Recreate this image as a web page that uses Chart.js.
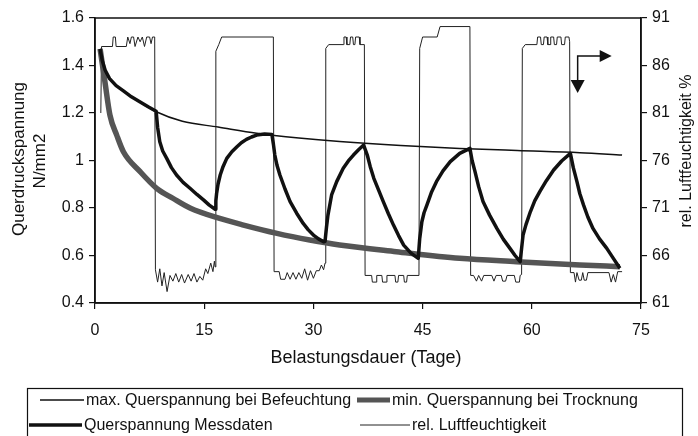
<!DOCTYPE html>
<html>
<head>
<meta charset="utf-8">
<script src="https://cdn.jsdelivr.net/npm/chart.js@4.4.1/dist/chart.umd.min.js"></script>
<style>
  html, body { margin: 0; padding: 0; background: #fff; }
</style>
</head>
<body>
<canvas id="stress" width="698" height="436"></canvas>
<script>
// tick labels
var xTicks = ["0", "15", "30", "45", "60", "75"];
var yTicks = ["0.4", "0.6", "0.8", "1", "1.2", "1.4", "1.6"];
var rhTicks = ["61", "66", "71", "76", "81", "86", "91"];

// Querspannung Messdaten (N/mm2)
var measDays = [0.7, 1.0, 1.4, 2.0, 2.9, 3.9, 5.0, 6.2, 7.3, 8.4,
  8.6, 8.9, 9.3, 9.85, 10.5, 11.2, 12.1, 13.05, 14.0, 14.9, 15.7, 16.5,
  16.6, 16.7, 16.9, 17.2, 17.6, 18.1, 18.8, 19.5, 20.1, 20.8, 21.5, 22.2, 23.3, 24.3,
  24.5, 24.7, 25.0, 25.4, 26.1, 26.8, 27.7, 28.6, 29.3, 30.0, 30.7, 31.4, 31.6,
  31.8, 32.0, 32.5, 33.2, 34.1, 34.8, 35.5, 36.2, 36.9,
  37.4, 37.8, 38.3, 39.0, 39.6, 40.3, 41.0, 41.7, 42.4, 43.4, 44.4,
  44.6, 44.9, 45.2, 45.6, 46.2, 46.9, 47.8, 48.8, 50.1, 51.5,
  51.8, 52.2, 52.7, 53.3, 54.2, 55.2, 56.1, 57.0, 57.7, 58.4,
  58.6, 58.8, 59.2, 59.8, 60.4, 61.1, 62.0, 63.0, 64.1, 65.3,
  65.7, 66.2, 66.6, 67.1, 67.7, 68.4, 69.3, 70.3, 71.2, 72.1];
var measVals = [1.47, 1.42, 1.38, 1.345, 1.315, 1.293, 1.268, 1.246, 1.226, 1.207,
  1.14, 1.079, 1.04, 1.009, 0.97, 0.939, 0.908, 0.883, 0.857, 0.834, 0.812, 0.795,
  0.83, 0.86, 0.9, 0.939, 0.975, 1.009, 1.037, 1.058, 1.075, 1.089, 1.099, 1.107, 1.112, 1.11,
  1.07, 1.023, 0.98, 0.939, 0.88, 0.827, 0.778, 0.735, 0.708, 0.686, 0.67, 0.658, 0.66,
  0.72, 0.77, 0.855, 0.911, 0.967, 0.998, 1.023, 1.045, 1.065,
  1.023, 0.975, 0.925, 0.872, 0.827, 0.776, 0.728, 0.684, 0.644, 0.61, 0.588,
  0.67, 0.742, 0.78, 0.813, 0.865, 0.911, 0.956, 0.995, 1.03, 1.051,
  1.0, 0.953, 0.89, 0.827, 0.77, 0.714, 0.668, 0.63, 0.6, 0.574,
  0.63, 0.686, 0.73, 0.784, 0.83, 0.869, 0.915, 0.96, 0.998, 1.03,
  0.97, 0.911, 0.86, 0.813, 0.762, 0.714, 0.67, 0.63, 0.588, 0.546];

// max. Querspannung bei Befeuchtung
var maxDays = [0.7, 1.4, 2.0, 3.9, 6.2, 8.5, 12, 16.9, 22.2, 28, 33.6, 42, 50.1, 58, 66.6, 72.4];
var maxVals = [1.47, 1.38, 1.345, 1.293, 1.246, 1.204, 1.165, 1.141, 1.115, 1.095, 1.08, 1.063, 1.051, 1.042, 1.033, 1.023];

// min. Querspannung bei Trocknung
var minDays = [0.7, 1.37, 2.06, 2.98, 3.9, 6.2, 8.47, 10.75, 13.05, 16.9, 20.4, 25, 29.5, 33.6, 41.4, 50.1, 57.9, 66.6, 72.1];
var minVals = [1.47, 1.33, 1.19, 1.107, 1.037, 0.953, 0.883, 0.84, 0.80, 0.758, 0.728, 0.693, 0.665, 0.644, 0.616, 0.588, 0.574, 0.56, 0.553];

// rel. Luftfeuchtigkeit (%)
var humDays = [0.8, 0.9,
  2.4, 2.5, 2.8, 2.9, 4.3, 4.5, 4.8, 5.0, 5.3, 5.5, 5.9, 6.2, 6.5, 6.8, 7.1, 7.5, 7.7, 7.9, 8.2,
  8.3, 8.6, 8.9, 9.2, 9.5, 9.9, 10.3, 10.7, 11.1, 11.5, 11.9, 12.3, 12.8, 13.2, 13.6, 14.0, 14.4, 14.8, 15.2, 15.5, 15.9, 16.2, 16.4, 16.5,
  16.6, 17.0, 17.4, 24.5,
  24.6, 25.3, 25.5, 26.1, 26.4, 26.8, 27.2, 27.6, 28.0, 28.4, 28.8, 29.2, 29.6, 30.0, 30.4, 30.8, 31.1, 31.4, 31.6,
  31.7, 32.1, 34.1, 34.2, 34.5, 34.6, 35.0, 35.1, 35.4, 35.5, 35.7, 35.8, 36.3, 36.4, 37.0,
  37.1, 38.0, 38.1, 38.6, 38.7, 39.4, 39.5, 40.0, 40.1, 41.2, 41.3, 41.6, 41.7, 42.4, 42.5, 42.8, 42.9, 44.5,
  44.6, 45.0, 47.0, 47.4, 51.5,
  51.6, 52.0, 52.4, 52.7, 53.1, 53.4, 54.5, 54.8, 55.1, 55.8, 56.0, 56.4, 56.6, 57.6, 57.8, 58.3, 58.4, 58.6,
  58.7, 59.1, 60.7, 60.8, 61.2, 61.3, 61.6, 61.7, 62.1, 62.2, 62.5, 62.6, 63.0, 63.1, 63.4, 63.5, 64.0, 64.1, 64.5, 64.6, 65.1, 65.2,
  65.3, 65.8, 66.0, 66.2, 66.5, 66.8, 67.0, 67.2, 67.5, 67.7, 70.6, 70.9, 71.2, 71.5, 71.8, 72.4];
var humVals = [81, 88,
  88, 89, 89, 88, 88, 89, 88.3, 89, 89, 88, 89, 88.5, 89, 88, 89, 89, 88.3, 89, 89,
  64.5, 63.2, 64.6, 62.8, 64.2, 62.2, 63.9, 63.3, 64.1, 63.2, 64, 63.1, 64, 63.3, 64.1, 63.2, 63.8, 63.4, 64.6, 64.1, 65.2, 64.3, 65.4, 64.8,
  87.5, 88.2, 89, 89,
  64.3, 64.3, 63.5, 63.5, 64.2, 63.5, 64.2, 63.5, 64.2, 63.6, 64.6, 63.4, 64.4, 63.6, 64.4, 64.4, 65, 64.5, 65.2,
  87.8, 88.2, 88.2, 89, 89, 88.2, 88.2, 89, 89, 88.2, 88.2, 89, 89, 88.2, 88.2,
  63.9, 63.9, 63.2, 63.2, 63.9, 63.9, 63.2, 63.2, 63.9, 63.9, 63.2, 63.2, 63.9, 63.9, 63.2, 63.2, 63.9, 63.9,
  87.8, 89, 89, 90.1, 90.1,
  63.9, 63.9, 63.3, 63.9, 63.3, 63.9, 63.9, 63.3, 63.9, 63.9, 63.3, 63.3, 63.9, 63.9, 63.2, 63.2, 63.9, 64,
  87.8, 88.2, 88.2, 89, 89, 88.2, 88.2, 89, 89, 88.2, 88.2, 89, 89, 88.2, 88.2, 89, 89, 88.2, 88.2, 89, 89, 88.5,
  64.2, 64.2, 63.2, 64.2, 63.4, 63.4, 64.2, 63.4, 63.4, 64.2, 64.2, 63.2, 64, 63.2, 64.3, 64.3];

// arrow annotation: corner at (day, % rel. humidity)
var arrowAt = [66.3, 87];

var FONT = '"Liberation Sans", Arial, sans-serif';
var INK = "#111";

function pts(xs, ys) {
  return xs.map(function (d, i) { return { x: d, y: ys[i] }; });
}

var extras = {
  id: "extras",
  afterDraw: function (chart) {
    var ctx = chart.ctx, a = chart.chartArea;
    ctx.save();
    // plot frame
    ctx.strokeStyle = INK;
    ctx.lineWidth = 1.5;
    ctx.strokeRect(a.left, a.top, a.right - a.left, a.bottom - a.top);

    // axis titles
    ctx.fillStyle = INK;
    ctx.textAlign = "center";
    ctx.textBaseline = "middle";
    ctx.font = "18px " + FONT;
    ctx.fillText("Belastungsdauer (Tage)", 366, 358);
    function vtext(t, x, y) {
      ctx.save();
      ctx.translate(x, y);
      ctx.rotate(-Math.PI / 2);
      ctx.fillText(t, 0, 0);
      ctx.restore();
    }
    ctx.font = "17px " + FONT;
    vtext("Querdruckspannung", 19, 159);
    vtext("N/mm2", 40, 161);
    ctx.font = "16px " + FONT;
    vtext("rel. Luftfeuchtigkeit %", 687, 151);

    // arrow
    var px = chart.scales.x.getPixelForValue(arrowAt[0]);
    var py = chart.scales.y1.getPixelForValue(arrowAt[1]);
    ctx.lineWidth = 1.5;
    ctx.beginPath();
    ctx.moveTo(px, py + 26);
    ctx.lineTo(px, py);
    ctx.lineTo(px + 23, py);
    ctx.stroke();
    ctx.beginPath();
    ctx.moveTo(px - 7, py + 24);
    ctx.lineTo(px + 7, py + 24);
    ctx.lineTo(px, py + 37);
    ctx.closePath();
    ctx.fill();
    ctx.beginPath();
    ctx.moveTo(px + 22, py - 6);
    ctx.lineTo(px + 22, py + 6);
    ctx.lineTo(px + 34, py);
    ctx.closePath();
    ctx.fill();

    // legend
    ctx.lineWidth = 1.2;
    ctx.strokeRect(27.5, 388.5, 655, 60);
    ctx.font = "16px " + FONT;
    ctx.textAlign = "left";
    var items = [
      [0, 40, 84, 400, 1.5, INK],
      [2, 357, 390, 400, 5, "#555"],
      [1, 29, 82, 425, 3.5, INK],
      [3, 360, 410, 425, 1, "#222"]
    ];
    items.forEach(function (it) {
      var ds = chart.data.datasets[it[0]];
      ctx.strokeStyle = it[5];
      ctx.lineWidth = it[4];
      ctx.beginPath();
      ctx.moveTo(it[1], it[3]);
      ctx.lineTo(it[2], it[3]);
      ctx.stroke();
      ctx.fillText(ds.label, it[2] + 2, it[3] + 1);
    });
    ctx.restore();
  }
};

var tickFont = { family: FONT, size: 16 };

new Chart("stress", {
  type: "line",
  data: {
    datasets: [{
      label: "max. Querspannung bei Befeuchtung",
      data: pts(maxDays, maxVals),
      borderColor: INK,
      borderWidth: 1.5,
      cubicInterpolationMode: "monotone",
      yAxisID: "y"
    }, {
      label: "Querspannung Messdaten",
      data: pts(measDays, measVals),
      borderColor: INK,
      borderWidth: 3.5,
      borderJoinStyle: "round",
      tension: 0,
      yAxisID: "y"
    }, {
      label: "min. Querspannung bei Trocknung",
      data: pts(minDays, minVals),
      borderColor: "#555",
      borderWidth: 5.5,
      cubicInterpolationMode: "monotone",
      yAxisID: "y"
    }, {
      label: "rel. Luftfeuchtigkeit",
      data: pts(humDays, humVals),
      borderColor: "#222",
      borderWidth: 1,
      tension: 0,
      yAxisID: "y1"
    }]
  },
  options: {
    responsive: false,
    animation: false,
    elements: { point: { radius: 0 } },
    layout: { padding: { top: 18, left: 0, right: 0, bottom: 0 } },
    plugins: {
      legend: { display: false },
      tooltip: { enabled: false }
    },
    scales: {
      x: {
        type: "linear",
        min: 0,
        max: 75,
        ticks: {
          stepSize: 15, padding: 12, color: INK, font: tickFont,
          callback: function (v, i) { return xTicks[i]; }
        },
        grid: { drawOnChartArea: false, tickLength: 6, color: INK, lineWidth: 1.2 },
        border: { color: INK, width: 1.5 },
        afterFit: function (s) { s.height = 133; }
      },
      y: {
        position: "left",
        min: 0.4,
        max: 1.6,
        ticks: {
          stepSize: 0.2, padding: 5, color: INK, font: tickFont,
          callback: function (v, i) { return yTicks[i]; }
        },
        grid: { drawOnChartArea: false, tickLength: 6, color: INK, lineWidth: 1.2 },
        border: { color: INK, width: 1.5 },
        afterFit: function (s) { s.width = 95; }
      },
      y1: {
        position: "right",
        min: 61,
        max: 91,
        ticks: {
          stepSize: 5, padding: 5, color: INK, font: tickFont,
          callback: function (v, i) { return rhTicks[i]; }
        },
        grid: { drawOnChartArea: false, tickLength: 6, color: INK, lineWidth: 1.2 },
        border: { color: INK, width: 1.5 },
        afterFit: function (s) { s.width = 57; }
      }
    }
  },
  plugins: [extras]
});
</script>
</body>
</html>
